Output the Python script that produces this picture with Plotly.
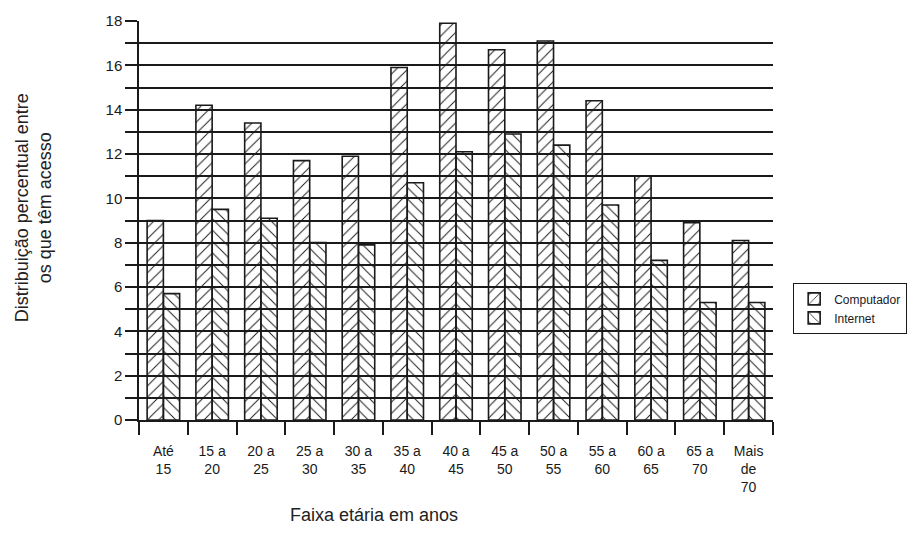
import plotly.graph_objects as go

# Age brackets (x categories)
faixas = ["Até<br>15", "15 a<br>20", "20 a<br>25", "25 a<br>30", "30 a<br>35",
          "35 a<br>40", "40 a<br>45", "45 a<br>50", "50 a<br>55", "55 a<br>60",
          "60 a<br>65", "65 a<br>70", "Mais<br>de<br>70"]

# Percentage distribution among those with access
computador = [9.0, 14.2, 13.4, 11.7, 11.9, 15.9, 17.9, 16.7, 17.1, 14.4, 11.0, 8.9, 8.1]
internet = [5.7, 9.5, 9.1, 8.0, 7.9, 10.7, 12.1, 12.9, 12.4, 9.7, 7.2, 5.3, 5.3]

# y ticks: line at every unit, label every two
y_vals = list(range(0, 19))
y_text = [str(v) if v % 2 == 0 else "" for v in y_vals]

FONT = "Liberation Sans, Arial, sans-serif"
INK = "#1a1a1a"

def hatch(shape):
    return dict(
        color=INK,
        line=dict(color=INK, width=1.6),
        pattern=dict(shape=shape, fillmode="replace", size=8, solidity=0.12),
    )

fig = go.Figure()
fig.add_trace(go.Bar(name="Computador", x=faixas, y=computador, marker=hatch("/")))
fig.add_trace(go.Bar(name="Internet", x=faixas, y=internet, marker=hatch("\\")))

fig.update_layout(
    width=910, height=550,
    margin=dict(l=139, r=137, t=21, b=130, autoexpand=False),
    paper_bgcolor="white", plot_bgcolor="white",
    barmode="group", bargap=1/3, bargroupgap=0,
    font=dict(family=FONT, color=INK, size=14),
    showlegend=True,
    legend=dict(
        x=1.0315, y=0.343, xanchor="left", yanchor="top",
        bordercolor=INK, borderwidth=1.2, bgcolor="white",
        font=dict(size=12, family=FONT, color=INK),
        tracegroupgap=0, itemwidth=30,
    ),
    xaxis=dict(
        type="category", tickson="boundaries",
        ticks="outside", ticklen=13, tickwidth=1.5, tickcolor=INK,
        ticklabelstandoff=17,
        showline=True, linecolor=INK, linewidth=1.5,
        showgrid=False, tickfont=dict(size=14), tickangle=0,
    ),
    yaxis=dict(
        range=[0, 18], tickvals=y_vals, ticktext=y_text,
        ticks="outside", ticklen=12, tickwidth=1.5, tickcolor=INK,
        showline=True, linecolor=INK, linewidth=1.5,
        showgrid=True, gridcolor=INK, gridwidth=1.5,
        zeroline=False, tickfont=dict(size=15),
    ),
    annotations=[
        dict(text="Faixa etária em anos", xref="paper", yref="paper",
             x=0.3707, y=-0.238, xanchor="center", yanchor="middle",
             showarrow=False,
             font=dict(size=18, family=FONT, color="#222")),
        dict(text="Distribuição percentual entre<br>os que têm acesso",
             xref="paper", yref="paper", x=-0.167, y=0.531,
             xanchor="center", yanchor="middle",
             textangle=-90, showarrow=False,
             font=dict(size=18, family=FONT, color="#222")),
    ],
)

fig.write_html("out.html")
